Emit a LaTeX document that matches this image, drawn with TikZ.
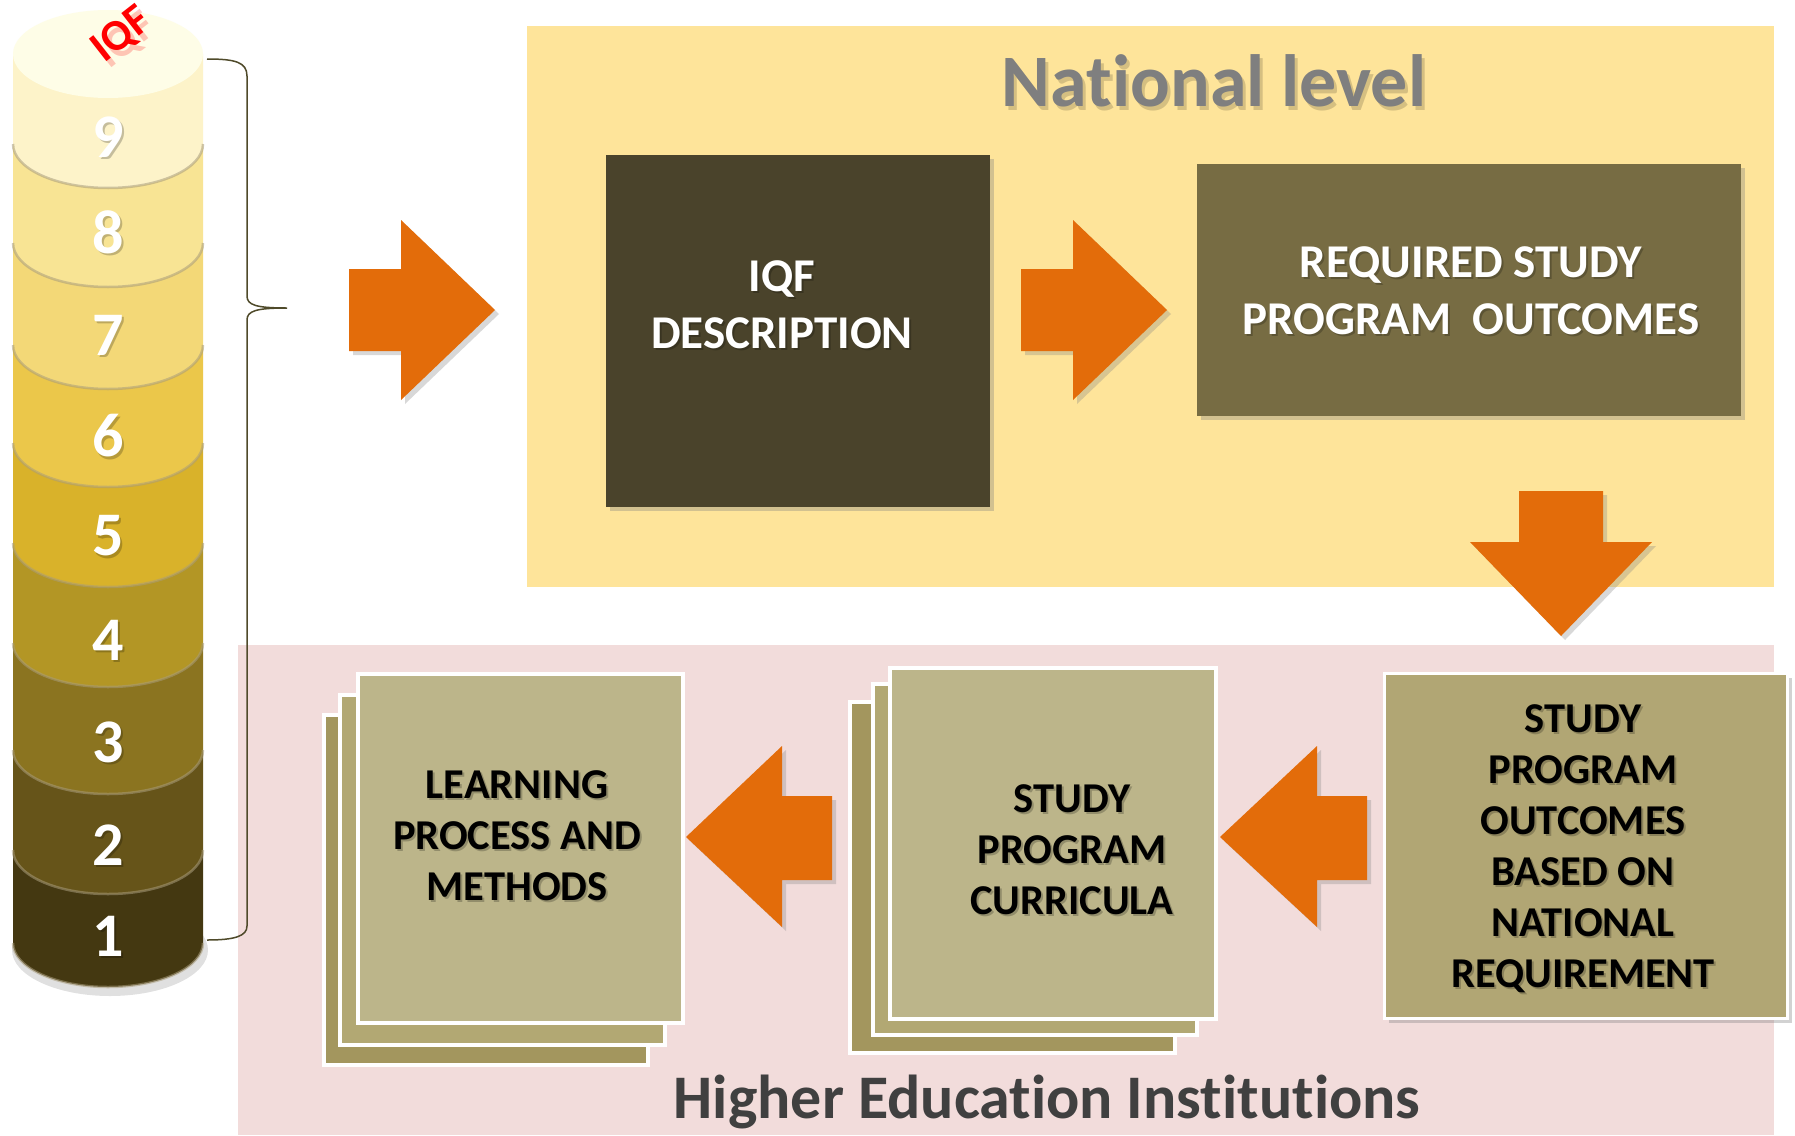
\documentclass[tikz,border=0pt]{standalone}
\usepackage{fontspec}
\setmainfont{Carlito}[Ligatures=NoCommon]
\usetikzlibrary{shadows}
\definecolor{natY}{HTML}{FEE49A}
\definecolor{heiP}{HTML}{F2DCDB}
\definecolor{arrO}{HTML}{E36C0A}
\definecolor{iqfD}{HTML}{4A432B}
\definecolor{reqB}{HTML}{776C43}
\definecolor{spoB}{HTML}{B1A674}
\definecolor{frontB}{HTML}{BCB58A}
\definecolor{midB}{HTML}{B2A873}
\definecolor{backB}{HTML}{A3965E}
\definecolor{brk}{HTML}{4F4A2A}
\definecolor{topF}{HTML}{FEFDE7}
\definecolor{cI}{HTML}{FDF3C9}
\definecolor{cH}{HTML}{F8E494}
\definecolor{cG}{HTML}{F3D877}
\definecolor{cF}{HTML}{EBC74A}
\definecolor{cE}{HTML}{D9B22A}
\definecolor{cD}{HTML}{B39625}
\definecolor{cC}{HTML}{8B7420}
\definecolor{cB}{HTML}{665419}
\definecolor{cA}{HTML}{443811}
\definecolor{rim}{HTML}{A89C7C}
\definecolor{titleG}{HTML}{7F7F7F}
\definecolor{heiT}{HTML}{404040}
\begin{document}
\begin{tikzpicture}[x=1pt,y=-1pt,
  blockarrow/.style={fill=arrO, drop shadow={opacity=0.3, shadow xshift=4pt, shadow yshift=-4pt}},
  boxnode/.style={rectangle, inner sep=0pt, outer sep=0pt},
  shbox/.style={boxnode, drop shadow={opacity=0.35, shadow xshift=4pt, shadow yshift=-4pt}},
  paper/.style={boxnode, draw=white, line width=4pt},
  wtext/.style={text=white, align=center, font=\fontsize{47}{57}\selectfont\bfseries, inner sep=0pt},
  btext/.style={text=black, align=center, font=\fontsize{42.5}{51}\selectfont\bfseries, inner sep=0pt},
  tshadow/.style={text=black, opacity=0.22},
  numlab/.style={text=white, font=\fontsize{62}{62}\selectfont\bfseries, inner sep=0pt},
]
\path[use as bounding box, fill=white] (0,0) rectangle (1795,1135);

% panels
\fill[natY] (527,26) rectangle (1774,587);
\fill[heiP] (238,645) rectangle (1774,1135);

% cylinder shadow
\fill[black, opacity=0.12] (110,950) ellipse [x radius=98pt, y radius=46pt];

% cylinder segments (bottom to top)
\foreach \ct/\cb/\col/\lab in {850/943/cA/1, 750/850/cB/2, 643/750/cC/3, 543/643/cD/4, 443/543/cE/5, 345/443/cF/6, 243/345/cG/7, 144/243/cH/8, 54/144/cI/9}{
  \fill[\col] (13,\ct) -- (13,\cb) .. controls (13,\cb+24.3) and (55.5,\cb+44) .. (108,\cb+44)
     .. controls (160.5,\cb+44) and (203,\cb+24.3) .. (203,\cb) -- (203,\ct) -- cycle;
  \draw[rim, line width=2.5pt, opacity=0.55] (13,\cb) .. controls (13,\cb+24.3) and (55.5,\cb+44) .. (108,\cb+44)
     .. controls (160.5,\cb+44) and (203,\cb+24.3) .. (203,\cb);
}
\fill[topF] (108,54) ellipse [x radius=95pt, y radius=44pt];

% cylinder numbers
\foreach \lab/\ly in {1/936, 2/845, 3/742, 4/640, 5/536, 6/436, 7/335, 8/232, 9/137}{
  \node[numlab, tshadow] (ns\lab) at (110.5,\ly+2.5) {\lab};
  \node[numlab] (n\lab) at (108,\ly) {\lab};
}
\node[rotate=38, text=red, opacity=0.22, font=\fontsize{44}{44}\selectfont\bfseries, inner sep=0pt] (iqfTopS) at (127,41) {IQF};
\node[rotate=38, text=red, font=\fontsize{44}{44}\selectfont\bfseries, inner sep=0pt] (iqfTop) at (122,35) {IQF};

% bracket
\coordinate (bTop) at (207,59);
\coordinate (bTip) at (287,308);
\coordinate (bBot) at (207,940);
\draw[brk, line width=1.5pt] (bTop) .. controls (235,59) and (247,62) .. (247,76) -- (247,296)
  .. controls (247,305) and (256,308) .. (bTip) .. controls (256,308) and (247,311) .. (247,320)
  -- (247,926) .. controls (247,936) and (235,940) .. (bBot);

% national level boxes
\node[shbox, fill=iqfD, minimum width=384pt, minimum height=352pt] (iqf) at (798,331) {};
\node[wtext, tshadow] (iqfTs) at (784,307) {IQF\\DESCRIPTION};
\node[wtext] (iqfT) at (782,305) {IQF\\DESCRIPTION};

\node[shbox, fill=reqB, minimum width=544pt, minimum height=252pt] (req) at (1469,290) {};
\node[wtext, tshadow] (reqTs) at (1473,293) {REQUIRED STUDY\\PROGRAM\ \ OUTCOMES};
\node[wtext] (reqT) at (1471,291) {REQUIRED STUDY\\PROGRAM\ \ OUTCOMES};

% titles
\node[text=black, opacity=0.16, font=\fontsize{74}{74}\selectfont\bfseries, inner sep=0pt] (natTs) at (1217,85) {National level};
\node[text=titleG, font=\fontsize{74}{74}\selectfont\bfseries, inner sep=0pt] (natT) at (1214,81) {National level};
\node[text=heiT, font=\fontsize{62}{62}\selectfont\bfseries, inner sep=0pt] (heiT) at (1047,1102) {Higher Education Institutions};

% HEI boxes
\node[shbox, fill=spoB, draw=white, line width=3pt, minimum width=403pt, minimum height=345pt] (spo) at (1586,846) {};
\node[btext, tshadow] (spoTs) at (1585,851) {STUDY\\PROGRAM\\OUTCOMES\\BASED ON\\NATIONAL\\REQUIREMENT};
\node[btext] (spoT) at (1583,849) {STUDY\\PROGRAM\\OUTCOMES\\BASED ON\\NATIONAL\\REQUIREMENT};

\node[paper, fill=backB, minimum width=325pt, minimum height=351pt] (curB) at (1012.5,877.5) {};
\node[paper, fill=midB, minimum width=324pt, minimum height=351pt] (curM) at (1035,859.5) {};
\node[paper, fill=frontB, minimum width=326pt, minimum height=351pt] (cur) at (1053,843.5) {};
\node[btext, tshadow] (curTs) at (1074,852) {STUDY\\PROGRAM\\CURRICULA};
\node[btext] (curT) at (1072,850) {STUDY\\PROGRAM\\CURRICULA};

\node[paper, fill=backB, minimum width=324pt, minimum height=350pt] (lrnB) at (486,890) {};
\node[paper, fill=midB, minimum width=325pt, minimum height=350pt] (lrnM) at (502.5,870) {};
\node[paper, fill=frontB, minimum width=325pt, minimum height=349pt] (lrn) at (520.5,848.5) {};
\node[btext, tshadow] (lrnTs) at (519,838) {LEARNING\\PROCESS AND\\METHODS};
\node[btext] (lrnT) at (517,836) {LEARNING\\PROCESS AND\\METHODS};

% block arrows
\path[blockarrow] (349,269) -- (401,269) -- (401,220) -- (495,310) -- (401,400) -- (401,351) -- (349,351) -- cycle;
\path[blockarrow] (1021,269) -- (1073,269) -- (1073,220) -- (1167,310) -- (1073,400) -- (1073,351) -- (1021,351) -- cycle;
\path[blockarrow] (1519,491) -- (1603,491) -- (1603,542) -- (1652,542) -- (1561,636) -- (1470,542) -- (1519,542) -- cycle;
\path[blockarrow] (1367,796) -- (1317,796) -- (1317,746) -- (1220,837) -- (1317,927) -- (1317,880) -- (1367,880) -- cycle;
\path[blockarrow] (832,796) -- (782,796) -- (782,746) -- (686,837) -- (782,927) -- (782,880) -- (832,880) -- cycle;
\end{tikzpicture}
\end{document}
